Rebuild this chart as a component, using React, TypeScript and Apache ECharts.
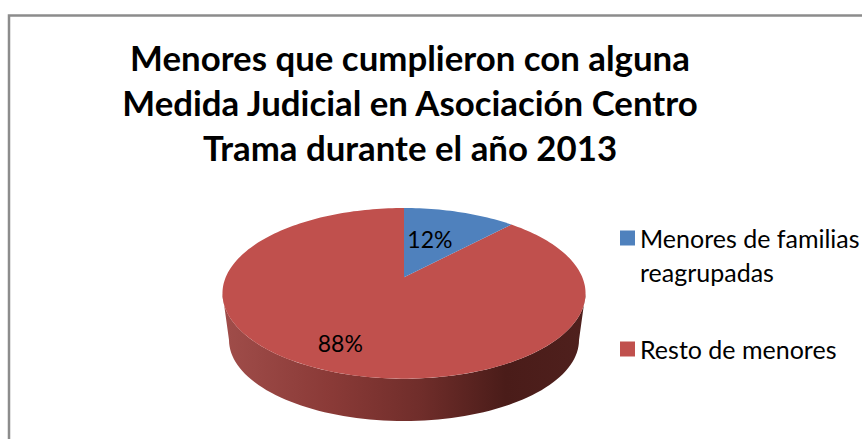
import React, { useEffect, useRef } from "react";
import * as echarts from "echarts";

const titleLines = [
  "Menores que cumplieron con alguna",
  "Medida Judicial en Asociación Centro",
  "Trama durante el año 2013",
];
const categories = ["Menores de familias\nreagrupadas", "Resto de menores"];
const values = [12, 88];
const colors = ["#4f81bd", "#c0504d"];

const total = values.reduce((a, b) => a + b, 0);

// Perspective disc: apex of the slices, plus projection constants
const APEX = { x: 404, y: 277.3 };
const K = -0.188;
const P = 82.3;
const S = 178.3;
const LABEL_R = [0.55, 0.75];
const LABEL_SHIFT = [[-7, 0], [-7, 0]];

function project(theta: number, r = 1): number[] {
  const X = Math.sin(theta) * r;
  const Y = -Math.cos(theta) * r;
  const d = 1 + K * Y;
  return [APEX.x + (S * X) / d, APEX.y + (P * Y) / d];
}

function sliceAngles(i: number): [number, number] {
  const before = values.slice(0, i).reduce((a, b) => a + b, 0);
  const a0 = (before / total) * Math.PI * 2;
  return [a0, a0 + (values[i] / total) * Math.PI * 2];
}

function wallPoints(): number[][] {
  // front rim of the top ellipse, then the lower rim back again
  const pts: number[][] = [];
  const cxT = 404, cyT = 293.3, rxT = 181.5, ryT = 85.4;
  const cyB = 340, rxB = 175, ryB = 81;
  for (let i = 0; i <= 80; i++) {
    const t = (Math.PI * i) / 80;
    pts.push([cxT + rxT * Math.cos(t), cyT + ryT * Math.sin(t)]);
  }
  for (let i = 80; i >= 0; i--) {
    const t = (Math.PI * i) / 80;
    pts.push([cxT + rxB * Math.cos(t), cyB + ryB * Math.sin(t)]);
  }
  return pts;
}

function makeRenderItem(index: number) {
  return (_params: any, api: any) => {
    const v = api.value(0);
    const [a0, a1] = sliceAngles(index);
    const children: any[] = [];
    if (index === 1) {
      children.push({
        type: "polygon",
        shape: { points: wallPoints() },
        style: {
          fill: new echarts.graphic.LinearGradient(0, 0, 1, 0, [
            { offset: 0, color: "#a04d4a" },
            { offset: 0.3, color: "#8a3a37" },
            { offset: 0.55, color: "#6f2d2a" },
            { offset: 0.78, color: "#4a1c19" },
            { offset: 1, color: "#4f201d" },
          ]),
          stroke: "none",
        },
      });
    }
    const pts: number[][] = [[APEX.x, APEX.y]];
    const n = Math.max(12, Math.ceil(((a1 - a0) / (Math.PI * 2)) * 240));
    for (let i = 0; i <= n; i++) pts.push(project(a0 + ((a1 - a0) * i) / n));
    children.push({ type: "polygon", shape: { points: pts }, style: { fill: colors[index], stroke: "none" } });
    const [lx, ly] = project((a0 + a1) / 2, LABEL_R[index]);
    children.push({
      type: "text",
      x: lx + LABEL_SHIFT[index][0],
      y: ly + LABEL_SHIFT[index][1],
      style: {
        text: `${v}%`,
        fill: "#000000",
        font: "23px Lato",
        align: "center",
        verticalAlign: "middle",
      },
    });
    return { type: "group", children };
  };
}

const legendCommon = {
  left: 620,
  orient: "vertical",
  itemWidth: 15,
  itemGap: 0,
  padding: 0,
  selectedMode: false,
  textStyle: { fontFamily: "Lato", fontSize: 25, lineHeight: 34, color: "#000000" },
};

export default function App() {
  const ref = useRef<HTMLDivElement>(null);
  useEffect(() => {
    document.body.style.margin = "0";
    const chart = echarts.init(ref.current!, undefined, { renderer: "svg" });
    chart.setOption({
      animation: false,
      backgroundColor: "#ffffff",
      title: {
        text: titleLines.join("\n"),
        left: 405,
        top: 30,
        textAlign: "center",
        textStyle: { fontFamily: "Lato", fontWeight: "bold", fontSize: 34.8, lineHeight: 45, color: "#000000" },
      },
      legend: [
        {
          ...legendCommon,
          data: [categories[0]],
          top: 221,
          // marker sits at the top of a taller icon box so it lines up with the first text line
          icon: "path://M0 0L15 0L15 15L0 15ZM0 49L0 49",
          itemHeight: 49,
        },
        {
          ...legendCommon,
          data: [categories[1]],
          top: 332,
          icon: "rect",
          itemHeight: 15,
        },
      ],
      graphic: [
        {
          type: "rect",
          z: -10,
          silent: true,
          shape: { x: 9, y: 15.5, width: 900, height: 500 },
          style: { fill: "none", stroke: "#8c8c8c", lineWidth: 2.5 },
        },
      ],
      series: [1, 0].map((i) => ({
        type: "custom",
        name: categories[i],
        coordinateSystem: "none",
        itemStyle: { color: colors[i] },
        renderItem: makeRenderItem(i),
        data: [[values[i]]],
        z: i === 1 ? 2 : 3,
      })),
    });
    return () => chart.dispose();
  }, []);
  return <div ref={ref} style={{ width: 862, height: 439 }} />;
}
